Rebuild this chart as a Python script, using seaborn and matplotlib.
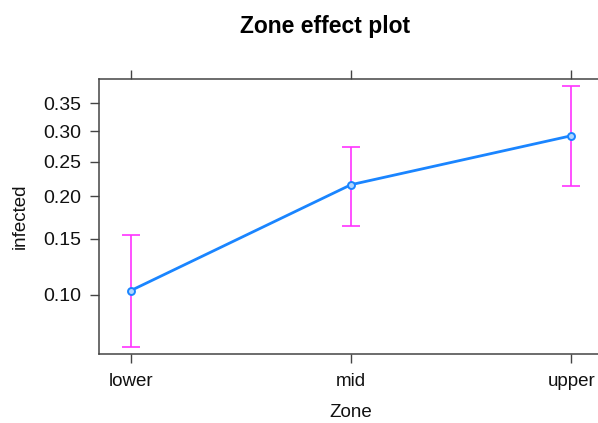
import numpy as np
import pandas as pd
import matplotlib
matplotlib.use("Agg")
import matplotlib.pyplot as plt
import seaborn as sns

zones = ["lower", "mid", "upper"]
fit = [0.1032, 0.216, 0.292]
lower_ci = [0.0676, 0.164, 0.214]
upper_ci = [0.154, 0.273, 0.3825]
y_ticks = [0.10, 0.15, 0.20, 0.25, 0.30, 0.35]
y_tick_labels = ["0.10", "0.15", "0.20", "0.25", "0.30", "0.35"]

sns.set_theme(style="white")
plt.rcParams['font.family'] = ['Liberation Sans', 'DejaVu Sans']

df = pd.DataFrame({"Zone": zones, "infected": fit})

fig = plt.figure(figsize=(5.98, 4.23), dpi=100)
ax = fig.add_axes([99/598, 69/423, 504/598, 275/423])

ax.set_yscale('logit')
xpos = np.arange(len(zones))
ax.vlines(xpos, lower_ci, upper_ci, color='#FF33FF', lw=1.2, zorder=2)
ax.hlines(lower_ci, xpos - 0.04, xpos + 0.04, color='#FF33FF', lw=1.2, zorder=2)
ax.hlines(upper_ci, xpos - 0.04, xpos + 0.04, color='#FF33FF', lw=1.2, zorder=2)

sns.lineplot(data=df, x="Zone", y="infected", ax=ax, color='#1A85FF', lw=2.0,
             marker='o', markersize=5, markerfacecolor='#B0D6FF',
             markeredgecolor='#1A85FF', markeredgewidth=1.4, zorder=3, sort=False)

ax.set_xlim(-0.144, 2.144)
ax.set_ylim(0.0639, 0.397)
ax.set_xticks(xpos)
ax.set_xticklabels(zones)
ax.set_yticks(y_ticks)
ax.set_yticklabels(y_tick_labels)
ax.yaxis.set_minor_locator(matplotlib.ticker.NullLocator())
ax.yaxis.set_minor_formatter(matplotlib.ticker.NullFormatter())

for s in ax.spines.values():
    s.set_color('#444444')
    s.set_linewidth(1.1)
    s.set_visible(True)

ax.tick_params(axis='x', which='major', bottom=True, top=True, direction='out',
               length=6.5, width=1.0, color='#444444', labelsize=13.5, pad=7,
               labelcolor='#111111')
ax.tick_params(axis='y', which='major', left=True, right=False, direction='out',
               length=6.5, width=1.0, color='#444444', labelsize=14, pad=6,
               labelcolor='#111111')

ax.set_xlabel("Zone", fontsize=13.5, color='#111111', labelpad=10)
ax.set_ylabel("infected", fontsize=13.5, color='#111111', labelpad=11)
ax.grid(False)

fig.text(325/598, 1 - 33/423, "Zone effect plot", ha='center', va='baseline',
         fontsize=16.5, fontweight='bold', color='black')

fig.savefig("out.png", dpi=100)
